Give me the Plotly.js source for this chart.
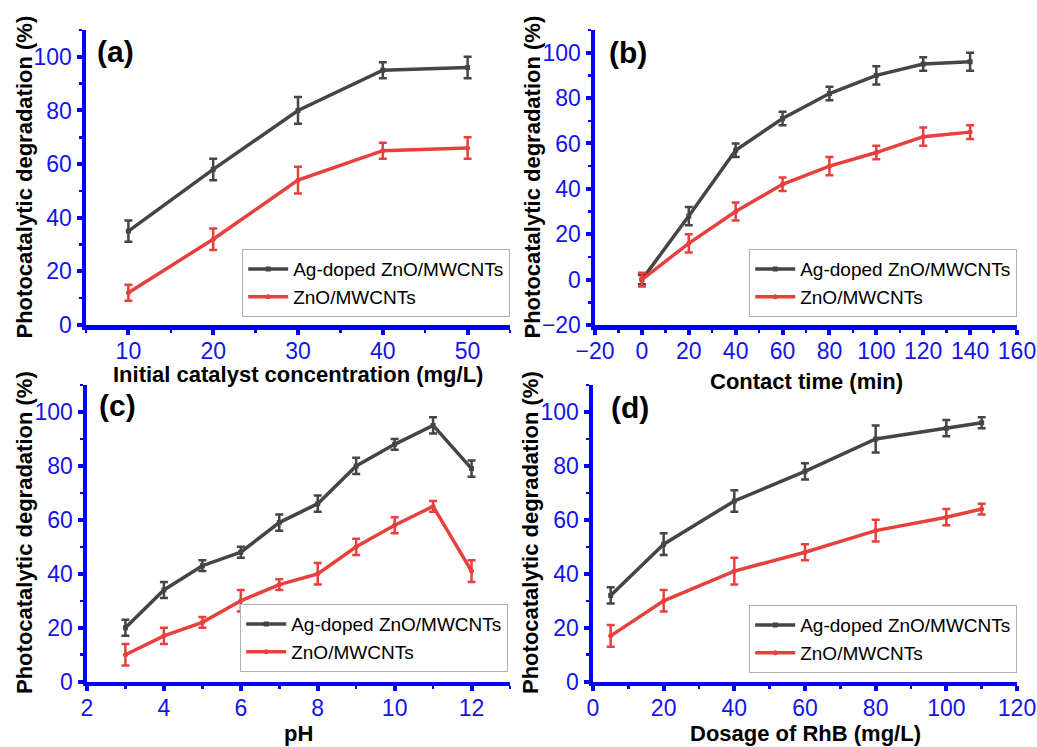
<!DOCTYPE html>
<html>
<head>
<meta charset="utf-8">
<script src="https://cdn.plot.ly/plotly-3.0.1.min.js"></script>
<style>html,body{margin:0;padding:0;background:#fff;}#chart{width:1037px;height:747px;}</style>
</head>
<body>
<div id="chart"></div>
<script>
// ---- data ----
const seriesNames = ["Ag-doped ZnO/MWCNTs", "ZnO/MWCNTs"];

// (a) initial catalyst concentration
const concX = [10, 20, 30, 40, 50];
const concAg = [35, 58, 80, 95, 96];
const concAgErr = [4, 4, 5, 3, 4];
const concZn = [12, 32, 54, 65, 66];
const concZnErr = [3, 4, 5, 3, 4];

// (b) contact time
const timeX = [0, 20, 40, 60, 80, 100, 120, 140];
const timeAg = [0, 28, 57, 71, 82, 90, 95, 96];
const timeAgErr = [2, 4, 3, 3, 3, 4, 3, 4];
const timeZn = [0, 16, 30, 42, 50, 56, 63, 65];
const timeZnErr = [3, 4, 4, 3, 4, 3, 4, 3];

// (c) pH
const phX = [3, 4, 5, 6, 7, 8, 9, 10, 11, 12];
const phAg = [20, 34, 43, 48, 59, 66, 80, 88, 95, 79];
const phAgErr = [3, 3, 2, 2, 3, 3, 3, 2, 3, 3];
const phZn = [10, 17, 22, 30, 36, 40, 50, 58, 65, 41];
const phZnErr = [4, 3, 2, 4, 2, 4, 3, 3, 2, 4];

// (d) dosage of RhB
const doseX = [5, 20, 40, 60, 80, 100, 110];
const doseAg = [32, 51, 67, 78, 90, 94, 96];
const doseAgErr = [3, 4, 4, 3, 5, 3, 2];
const doseZn = [17, 30, 41, 48, 56, 61, 64];
const doseZnErr = [4, 4, 5, 3, 4, 3, 2];

const panelLabels = ["(a)", "(b)", "(c)", "(d)"];
const xTitles = ["Initial catalyst concentration (mg/L)", "Contact time (min)", "pH", "Dosage of RhB (mg/L)"];
const yTitle = "Photocatalytic degradation (%)";

// ---- styling ----
const W = 1037, H = 747;
const BLACK = "#454545", RED = "#e8403d", BLUE = "#0000ff", TICKBLUE = "#1414e8";
const FONT = "Liberation Sans, Arial, sans-serif";
const px = v => v / W;
const py = v => 1 - v / H;

function mk(x, y, err, idx, k) {
  const isAg = idx === 0;
  const col = isAg ? BLACK : RED;
  return {
    x: x, y: y, type: "scatter", mode: "lines+markers",
    name: seriesNames[idx],
    xaxis: k === 1 ? "x" : "x" + k, yaxis: k === 1 ? "y" : "y" + k,
    legend: k === 1 ? "legend" : "legend" + k,
    line: {color: col, width: 3.5},
    marker: {color: col, size: 5, symbol: isAg ? "square" : "circle"},
    error_y: {type: "data", array: err, visible: true, color: col, thickness: 2.5, width: 4}
  };
}

const data = [
  mk(concX, concAg, concAgErr, 0, 1), mk(concX, concZn, concZnErr, 1, 1),
  mk(timeX, timeAg, timeAgErr, 0, 2), mk(timeX, timeZn, timeZnErr, 1, 2),
  mk(phX, phAg, phAgErr, 0, 3), mk(phX, phZn, phZnErr, 1, 3),
  mk(doseX, doseAg, doseAgErr, 0, 4), mk(doseX, doseZn, doseZnErr, 1, 4)
];

function axis(domain, range, dtick, minorDtick, anchor, isX) {
  return {
    domain: domain, range: range, dtick: dtick, anchor: anchor,
    showline: true, linecolor: BLUE, linewidth: 4.5, mirror: false,
    showgrid: false, zeroline: false,
    ticks: "outside", ticklen: 5, tickwidth: 4, tickcolor: BLUE,
    ticklabelstandoff: isX ? -3 : 0,
    minor: {ticks: "outside", ticklen: 3, tickwidth: 2.5, tickcolor: BLUE, dtick: minorDtick, showgrid: false},
    tickfont: {family: FONT, size: 23, color: TICKBLUE},
    fixedrange: true
  };
}

const topY = [py(325), py(30)];
const botY = [py(681.7), py(385)];

const layout = {
  width: W, height: H,
  margin: {l: 0, r: 0, t: 0, b: 0},
  paper_bgcolor: "#ffffff", plot_bgcolor: "#ffffff",
  showlegend: true,
  font: {family: FONT, color: "#000"},
  xaxis:  axis([px(86), px(510)], [5, 55], 10, 5, "y", true),
  yaxis:  axis(topY, [0, 110], 20, 10, "x", false),
  xaxis2: axis([px(595), px(1017)], [-20, 160], 20, 10, "y2", true),
  yaxis2: axis(topY, [-20, 110], 20, 10, "x2", false),
  xaxis3: axis([px(87), px(510)], [2, 13], 2, 1, "y3", true),
  yaxis3: axis(botY, [0, 110], 20, 10, "x3", false),
  xaxis4: axis([px(593), px(1017)], [0, 120], 20, 10, "y4", true),
  yaxis4: axis(botY, [0, 110], 20, 10, "x4", false),
  annotations: []
};

const legendPos = [[510, 317], [1017, 317], [508, 672], [1017, 673]];
legendPos.forEach((p, i) => {
  const key = i === 0 ? "legend" : "legend" + (i + 1);
  layout[key] = {
    x: px(p[0]), y: py(p[1]), xanchor: "right", yanchor: "bottom",
    bgcolor: "rgba(255,255,255,1)", bordercolor: "#b0b0b0", borderwidth: 1.2,
    font: {family: FONT, size: 19, color: "#000"},
    tracegroupgap: 0, itemwidth: 40
  };
});

// panel labels
const labelPos = [[95, 52], [607, 53], [97, 405], [609, 407]];
labelPos.forEach((p, i) => {
  layout.annotations.push({
    text: "<b>" + panelLabels[i] + "</b>", xref: "paper", yref: "paper",
    x: px(p[0]), y: py(p[1]), xanchor: "left", yanchor: "middle", showarrow: false,
    font: {size: 30, color: "#000", family: FONT}
  });
});

// x-axis titles
const xTitlePos = [[298, 374], [806, 381], [298, 733], [805, 733]];
xTitlePos.forEach((p, i) => {
  layout.annotations.push({
    text: "<b>" + xTitles[i] + "</b>", xref: "paper", yref: "paper",
    x: px(p[0]), y: py(p[1]), xanchor: "center", yanchor: "middle", showarrow: false,
    font: {size: 22, color: "#000", family: FONT}
  });
});

// y-axis titles
const yTitlePos = [[24, 177.5], [532, 177.5], [24, 533], [530, 533]];
yTitlePos.forEach(p => {
  layout.annotations.push({
    text: "<b>" + yTitle + "</b>", xref: "paper", yref: "paper", textangle: -90,
    x: px(p[0]), y: py(p[1]), xanchor: "center", yanchor: "middle", showarrow: false,
    font: {size: 22, color: "#000", family: FONT}
  });
});

Plotly.newPlot("chart", data, layout, {displayModeBar: false, staticPlot: true});
</script>
</body>
</html>
